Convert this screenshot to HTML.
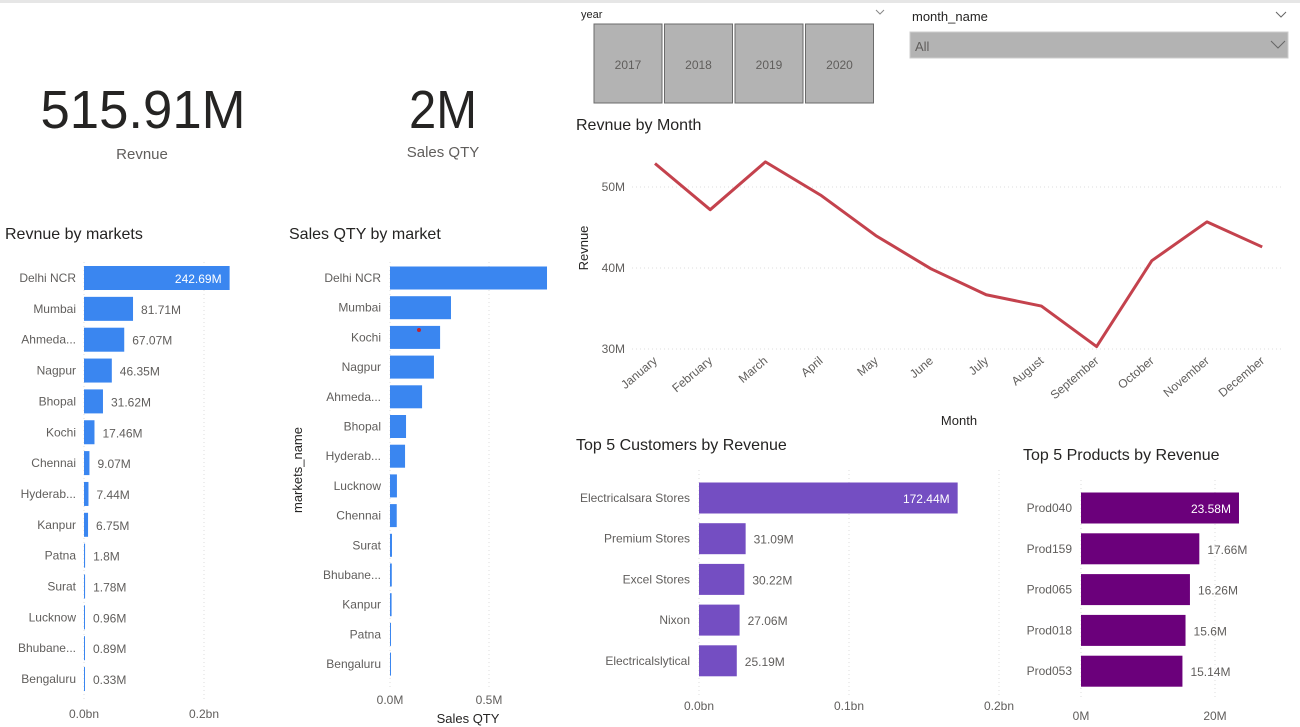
<!DOCTYPE html>
<html><head><meta charset="utf-8">
<style>
html,body{margin:0;padding:0;background:#fff;}
svg{display:block;font-family:"Liberation Sans",sans-serif;}
.t{font-size:16px;fill:#252423;}
.lbl{font-size:12px;fill:#605e5c;}
</style></head>
<body>
<svg id="s" width="1300" height="727" viewBox="0 0 1300 727">
<rect x="0" y="0" width="1300" height="3" fill="#e6e6e6"/>
<text x="143" y="128" font-size="54" text-anchor="middle" fill="#252423" textLength="205" lengthAdjust="spacingAndGlyphs">515.91M</text>
<text x="142" y="159" font-size="15" text-anchor="middle" fill="#605e5c">Revnue</text>
<text x="443" y="128" font-size="54" text-anchor="middle" fill="#252423" textLength="68" lengthAdjust="spacingAndGlyphs">2M</text>
<text x="443" y="157" font-size="15" text-anchor="middle" fill="#605e5c">Sales QTY</text>

<g>
<text x="581" y="18" font-size="11" fill="#252423">year</text>
<path d="M876 10 l4 4 l4 -4" fill="none" stroke="#888"/>
</g>
<g>
<text x="912" y="21" font-size="13" fill="#252423">month_name</text>
<path d="M1276 12 l5 5 l5 -5" fill="none" stroke="#666"/>
<rect x="910" y="32" width="378" height="26" fill="#b3b3b3" stroke="#ccc"/>
<text x="915" y="51" font-size="13" fill="#605e5c">All</text>
<path d="M1271 41 l7 7 l7 -7" fill="none" stroke="#666"/>
</g>

<text x="5" y="239" class="t">Revnue by markets</text>
<text x="289" y="239" class="t">Sales QTY by market</text>
<text x="576" y="130" class="t">Revnue by Month</text>
<text x="576" y="450" class="t">Top 5 Customers by Revenue</text>
<text x="1023" y="460" class="t">Top 5 Products by Revenue</text>
<g id="g"></g>
</svg>
<script>
// Revenue by markets (M)
const revMarkets = ["Delhi NCR","Mumbai","Ahmeda...","Nagpur","Bhopal","Kochi","Chennai","Hyderab...","Kanpur","Patna","Surat","Lucknow","Bhubane...","Bengaluru"];
const revValues = [242.69,81.71,67.07,46.35,31.62,17.46,9.07,7.44,6.75,1.8,1.78,0.96,0.89,0.33];
const revLabels = ["242.69M","81.71M","67.07M","46.35M","31.62M","17.46M","9.07M","7.44M","6.75M","1.8M","1.78M","0.96M","0.89M","0.33M"];
const revTicks = [0,200];
const revTickLabels = ["0.0bn","0.2bn"];
// Sales QTY by market (M units)
const qtyMarkets = ["Delhi NCR","Mumbai","Kochi","Nagpur","Ahmeda...","Bhopal","Hyderab...","Lucknow","Chennai","Surat","Bhubane...","Kanpur","Patna","Bengaluru"];
const qtyValues = [0.793,0.308,0.253,0.222,0.162,0.081,0.076,0.035,0.034,0.010,0.009,0.008,0.004,0.003];
const qtyTicks = [0,0.5];
const qtyTickLabels = ["0.0M","0.5M"];
// Revenue by month (M)
const months = ["January","February","March","April","May","June","July","August","September","October","November","December"];
const monthRevenue = [52.9,47.2,53.1,49.0,44.0,39.9,36.7,35.3,30.3,40.9,45.7,42.6];
const monthTicks = [30,40,50];
const monthTickLabels = ["30M","40M","50M"];
// Top customers (M)
const customers = ["Electricalsara Stores","Premium Stores","Excel Stores","Nixon","Electricalslytical"];
const customerValues = [172.44,31.09,30.22,27.06,25.19];
const customerLabels = ["172.44M","31.09M","30.22M","27.06M","25.19M"];
const custTicks = [0,100,200];
const custTickLabels = ["0.0bn","0.1bn","0.2bn"];
// Top products (M)
const products = ["Prod040","Prod159","Prod065","Prod018","Prod053"];
const productValues = [23.58,17.66,16.26,15.6,15.14];
const productLabels = ["23.58M","17.66M","16.26M","15.6M","15.14M"];
const prodTicks = [0,20];
const prodTickLabels = ["0M","20M"];
const years = ["2017","2018","2019","2020"];

const NS="http://www.w3.org/2000/svg";
const G=document.getElementById('g');
function mk(tag,attrs,parent,text){const e=document.createElementNS(NS,tag);for(const k in attrs)e.setAttribute(k,attrs[k]);if(text!==undefined)e.textContent=text;(parent||G).appendChild(e);return e;}

// year buttons
const yx=[594,664.5,735,805.5];
years.forEach((y,i)=>{
  const r=mk('rect',{x:yx[i],y:24,width:68,height:79,fill:'#b3b3b3',stroke:'#6b6b6b'});
  
  
  const t=mk('text',{x:yx[i]+34,y:69,'font-size':12,'text-anchor':'middle',fill:'#605e5c'},G,y);
  
  
});

function barChart(o){
  const sx=v=>o.x0+v*o.k;
  o.ticks.forEach((tv,i)=>{
    const l=mk('line',{x1:sx(tv),x2:sx(tv),y1:o.gy0,y2:o.gy1,stroke:'#ddd','stroke-dasharray':'1 3'});
    
    
    const t=mk('text',{x:sx(tv),y:o.ty,'font-size':12,'text-anchor':'middle',fill:'#605e5c'},G,o.tickLabels[i]);
    
    
  });
  o.cats.forEach((c,i)=>{
    const cy=o.y0+i*o.step, w=Math.max(1,o.vals[i]*o.k);
    const b=mk('rect',{x:o.x0,y:cy-o.h/2,width:w,height:o.h,fill:o.color});
    
    
    const t=mk('text',{x:o.lx,y:cy+4,'font-size':12,'text-anchor':'end',fill:'#605e5c'},G,c);
    
    
    if(o.labels){
      const inside=i===0;
      const v=mk('text',{x:inside?o.x0+w-8:o.x0+w+8,y:cy+5,'font-size':12,'text-anchor':inside?'end':'start',fill:inside?'#fff':'#605e5c'},G,o.labels[i]);
      
      
    }
  });
}
barChart({name:'revenue-markets',cats:revMarkets,vals:revValues,labels:revLabels,x0:84,k:0.6,y0:278,step:30.85,h:24,lx:76,color:'#3a86f0',ticks:revTicks,tickLabels:revTickLabels,gy0:262,gy1:700,ty:718});
barChart({name:'sales-qty-markets',cats:qtyMarkets,vals:qtyValues,labels:null,x0:390,k:198,y0:278,step:29.7,h:23,lx:381,color:'#3a86f0',ticks:qtyTicks,tickLabels:qtyTickLabels,gy0:262,gy1:688,ty:704});
barChart({name:'top-customers',cats:customers,vals:customerValues,labels:customerLabels,x0:699,k:1.5,y0:498,step:40.7,h:31,lx:690,color:'#744ec2',ticks:custTicks,tickLabels:custTickLabels,gy0:470,gy1:695,ty:710});
barChart({name:'top-products',cats:products,vals:productValues,labels:productLabels,x0:1081,k:6.7,y0:508,step:40.8,h:31,lx:1072,color:'#6b007b',ticks:prodTicks,tickLabels:prodTickLabels,gy0:480,gy1:700,ty:720});

let e;
e=mk('circle',{cx:419,cy:330,r:2,fill:'#c4242c'});


e=mk('text',{x:302,y:470,'font-size':13,'text-anchor':'middle',fill:'#252423',transform:'rotate(-90 302 470)'},G,'markets_name');


e=mk('text',{x:468,y:723,'font-size':13,'text-anchor':'middle',fill:'#252423'},G,'Sales QTY');



// line chart
const lx=i=>655+i*55.2, ly=v=>187+(50-v)*8.1;
monthTicks.forEach((tv,i)=>{
  const l=mk('line',{x1:632,x2:1283,y1:ly(tv),y2:ly(tv),stroke:'#ddd','stroke-dasharray':'1 3'});
  
  
  const t=mk('text',{x:625,y:ly(tv)+4,'font-size':12,'text-anchor':'end',fill:'#605e5c'},G,monthTickLabels[i]);
  
  
});
months.forEach((m,i)=>{
  const x=lx(i)+3,y=362;
  const t=mk('text',{x:x,y:y,'font-size':12,'text-anchor':'end',fill:'#605e5c',transform:`rotate(-40 ${x} ${y})`},G,m);
  
  
});
e=mk('polyline',{points:monthRevenue.map((v,i)=>lx(i)+','+ly(v)).join(' '),fill:'none',stroke:'#c4424d','stroke-width':3,'stroke-linejoin':'round'});


e=mk('text',{x:588,y:248,'font-size':13,'text-anchor':'middle',fill:'#252423',transform:'rotate(-90 588 248)'},G,'Revnue');


e=mk('text',{x:959,y:425,'font-size':13,'text-anchor':'middle',fill:'#252423'},G,'Month');


</script>
</body></html>
